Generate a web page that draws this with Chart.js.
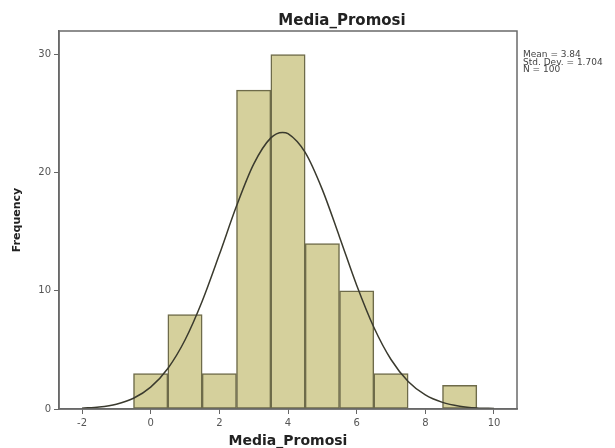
<!DOCTYPE html>
<html lang="id">
<head>
  <meta charset="UTF-8">
  <title>Media_Promosi</title>
  <script src="https://cdn.jsdelivr.net/npm/chart.js"></script>
  <style>
    html, body { margin: 0; padding: 0; background: #fff; }
    #wrap { width: 615px; height: 448px; }
  </style>
</head>
<body>

<div id="wrap"><canvas id="histo" width="615" height="448"></canvas></div>

<script>
  // data histogram
  const binTengah = [0, 1, 2, 3, 4, 5, 6, 7, 9];
  const frekuensi = [3, 8, 3, 27, 30, 14, 10, 3, 2];

  // kurva normal, titik-titik perkiraan dari gambar
  const kurvaX = [-2, -1.5, -1, -0.5, 0, 0.5, 1, 1.5, 2, 2.5, 3, 3.5, 3.84, 4, 4.5, 5, 5.5, 6, 6.5, 7, 7.5, 8, 8.5, 9, 9.5, 10];
  const kurvaY = [0.07, 0.17, 0.41, 0.91, 1.85, 3.43, 5.84, 9.12, 13.07, 17.18, 20.73, 22.95, 23.41, 23.31, 21.72, 18.57, 14.57, 10.48, 6.92, 4.19, 2.33, 1.19, 0.56, 0.24, 0.09, 0.04];

  const xTicks = [-2, 0, 2, 4, 6, 8, 10];
  const yTicks = [0, 10, 20, 30];
  const statistik = ['Mean = 3.84', 'Std. Dev. = 1.704', 'N = 100'];

  const judul = 'Media_Promosi';
  const fontNama = "'DejaVu Sans', Arial, sans-serif";

  // frame + judul + teks statistik
  const bingkai = {
    id: 'bingkai',
    afterDatasetsDraw(chart) {
      const a = chart.chartArea;
      const ctx = chart.ctx;
      ctx.save();
      ctx.strokeStyle = '#6a6a6a';
      ctx.lineWidth = 1.5;
      ctx.strokeRect(a.left, a.top, a.right - a.left, a.bottom - a.top);
      ctx.restore();
    },
    afterDraw(chart) {
      const ctx = chart.ctx;
      ctx.save();
      ctx.fillStyle = '#222';
      ctx.font = 'bold 15px ' + fontNama;
      ctx.textAlign = 'center';
      ctx.textBaseline = 'middle';
      ctx.fillText(judul, 342, 21);

      ctx.fillStyle = '#444';
      ctx.font = '9px ' + fontNama;
      ctx.textAlign = 'left';
      statistik.forEach((t, i) => ctx.fillText(t, 523, 55 + i * 7.5));
      ctx.restore();
    }
  };

  const ctx = document.getElementById('histo').getContext('2d');
  new Chart(ctx, {
    type: 'bar',
    data: {
      datasets: [
        {
          type: 'line',
          data: kurvaX.map((x, i) => ({ x: x, y: kurvaY[i] })),
          borderColor: '#3a3a2e',
          borderWidth: 1.5,
          pointRadius: 0,
          tension: 0.4,
          cubicInterpolationMode: 'monotone',
          fill: false,
          order: 0
        },
        {
          type: 'bar',
          data: binTengah.map((x, i) => ({ x: x, y: frekuensi[i] })),
          backgroundColor: '#d5d09c',
          borderColor: '#6e6b4a',
          borderWidth: 1.5,
          borderSkipped: false,
          barPercentage: 1,
          categoryPercentage: 1,
          order: 1
        }
      ]
    },
    options: {
      responsive: false,
      animation: false,
      devicePixelRatio: 1,
      layout: { padding: { left: 0, top: 31, right: 98, bottom: 0 } },
      plugins: {
        legend: { display: false },
        tooltip: { enabled: false },
        title: { display: false }
      },
      scales: {
        x: {
          type: 'linear',
          min: -2.67,
          max: 10.67,
          offset: false,
          afterBuildTicks: s => { s.ticks = xTicks.map(v => ({ value: v })); },
          afterFit: s => { s.height = 39; },
          grid: { drawOnChartArea: false, offset: false, tickLength: 5, color: '#666' },
          border: { display: true, color: '#666', width: 1.5 },
          ticks: { autoSkip: false, maxRotation: 0, padding: 3, color: '#555', font: { family: fontNama, size: 10 } },
          title: { display: true, text: 'Media_Promosi', color: '#222', font: { family: fontNama, size: 14, weight: 'bold' }, padding: { top: 0, bottom: -2 } }
        },
        y: {
          min: 0,
          max: 32,
          afterBuildTicks: s => { s.ticks = yTicks.map(v => ({ value: v })); },
          afterFit: s => { s.width = 59; },
          grid: { drawOnChartArea: false, tickLength: 5, color: '#666' },
          border: { display: true, color: '#666', width: 1.5 },
          ticks: { padding: 3, color: '#555', font: { family: fontNama, size: 10 } },
          title: { display: true, text: 'Frequency', color: '#222', font: { family: fontNama, size: 11, weight: 'bold' }, padding: { top: 11, bottom: 0 } }
        }
      }
    },
    plugins: [bingkai]
  });
</script>

</body>
</html>
